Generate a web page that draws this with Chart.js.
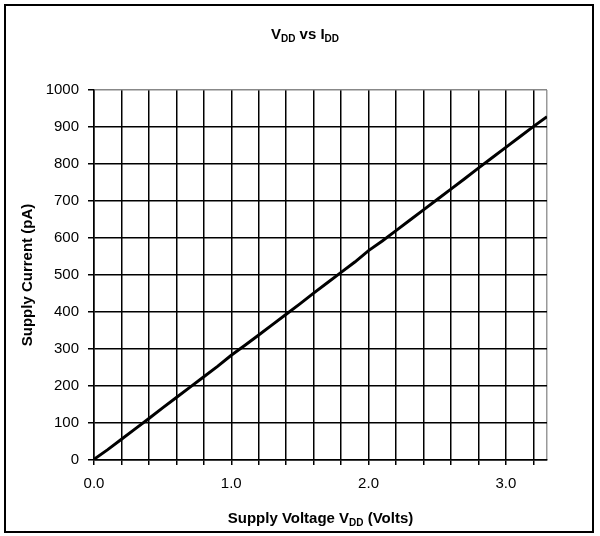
<!DOCTYPE html>
<html>
<head>
<meta charset="utf-8">
<script src="https://cdn.jsdelivr.net/npm/chart.js@4"></script>
<style>
  html, body { margin: 0; padding: 0; background: #fff; }
  #wrap { width: 600px; height: 536px; position: relative; }
</style>
</head>
<body>
<div id="wrap"><canvas id="chart" width="600" height="536"></canvas></div>
<script>
const voltage = [0.0, 0.1, 0.2, 0.3, 0.4, 0.5, 0.6, 0.7, 0.8, 0.9, 1.0, 1.1, 1.2, 1.3, 1.4, 1.5, 1.6,
    1.7, 1.8, 1.9, 2.0, 2.1, 2.2, 2.3, 2.4, 2.5, 2.6, 2.7, 2.8, 2.9, 3.0, 3.1, 3.2, 3.3];
const current = [2, 28, 56, 84, 112, 141, 169, 197, 225, 253, 283, 310, 338, 366, 394, 422, 451,
    479, 507, 535, 566, 592, 620, 648, 676, 704, 732, 760, 789, 817, 845, 873, 901, 928];
const xLabels = ["0.0", "1.0", "2.0", "3.0"];
const yTicks = [0, 100, 200, 300, 400, 500, 600, 700, 800, 900, 1000];

const FONT = "'Liberation Sans', Arial, sans-serif";

// text with subscript pieces: parts = [[text, isSub], ...]
function drawParts(c, parts, x, y, size) {
    const big = "bold " + size + "px " + FONT;
    const small = "bold " + Math.round(size * 0.68) + "px " + FONT;
    let total = 0;
    parts.forEach(p => { c.font = p[1] ? small : big; total += c.measureText(p[0]).width; });
    let cx = x - total / 2;
    c.textAlign = "left";
    c.textBaseline = "middle";
    parts.forEach(p => {
        c.font = p[1] ? small : big;
        c.fillText(p[0], cx, p[1] ? y + size * 0.3 : y);
        cx += c.measureText(p[0]).width;
    });
}

const decorPlugin = {
    id: "decor",
    beforeDraw(chart) {
        const c = chart.ctx;
        c.save();
        c.fillStyle = "#fff";
        c.fillRect(0, 0, chart.width, chart.height);
        c.strokeStyle = "#000";
        c.lineWidth = 2;
        c.strokeRect(5, 5, 588, 527);
        c.restore();
    },
    afterDraw(chart) {
        const c = chart.ctx;
        const a = chart.chartArea;
        c.save();
        c.fillStyle = "#000";
        drawParts(c, [["V", false], ["DD", true], [" vs I", false], ["DD", true]], 305, 35, 15);
        drawParts(c, [["Supply Voltage V", false], ["DD", true], [" (Volts)", false]],
            (a.left + a.right) / 2, 519, 15);
        c.translate(28, (a.top + a.bottom) / 2);
        c.rotate(-Math.PI / 2);
        drawParts(c, [["Supply Current (pA)", false]], 0, 0, 15);
        c.restore();
    }
};

const ctx = document.getElementById("chart").getContext("2d");

new Chart(ctx, {
    type: "line",
    data: {
        datasets: [{
            data: voltage.map((v, i) => ({ x: v, y: current[i] })),
            borderColor: "#000",
            borderWidth: 3,
            pointRadius: 0,
            tension: 0,
        }],
    },
    options: {
        responsive: false,
        animation: false,
        layout: { padding: { left: 0, top: 90, right: 53, bottom: 0 } },
        plugins: { legend: { display: false }, tooltip: { enabled: false } },
        scales: {
            x: {
                type: "linear",
                min: 0,
                max: 3.3,
                afterFit: s => { s.height = 76; },
                afterBuildTicks: s => {
                    const t = [];
                    for (let i = 0; i <= 16; i++) t.push({ value: Math.round(i * 2) / 10 });
                    t.push({ value: 3.3 });
                    s.ticks = t;
                },
                grid: {
                    color: c => (c.tick && c.tick.value >= 3.3 ? "#999" : "#000"),
                    lineWidth: 1.5,
                    tickLength: 5,
                    tickColor: c => (c.tick && c.tick.value >= 3.3 ? "rgba(0,0,0,0)" : "#000"),
                },
                border: { color: "#000", width: 1.5 },
                ticks: {
                    autoSkip: false,
                    maxRotation: 0,
                    padding: 10,
                    color: "#000",
                    font: { family: FONT, size: 15 },
                    callback: v => {
                        const s = Number(v).toFixed(1);
                        return xLabels.includes(s) ? s : "";
                    },
                },
            },
            y: {
                min: 0,
                max: 1000,
                afterFit: s => { s.width = 94; },
                afterBuildTicks: s => { s.ticks = yTicks.map(v => ({ value: v })); },
                grid: {
                    color: c => (c.tick && c.tick.value >= 1000 ? "#888" : "#000"),
                    lineWidth: 1.5,
                    tickLength: 6,
                    tickColor: "#000",
                },
                border: { color: "#000", width: 1.5 },
                ticks: {
                    padding: 9,
                    color: "#000",
                    font: { family: FONT, size: 15 },
                    callback: v => String(v),
                },
            },
        },
    },
    plugins: [decorPlugin],
});
</script>
</body>
</html>
